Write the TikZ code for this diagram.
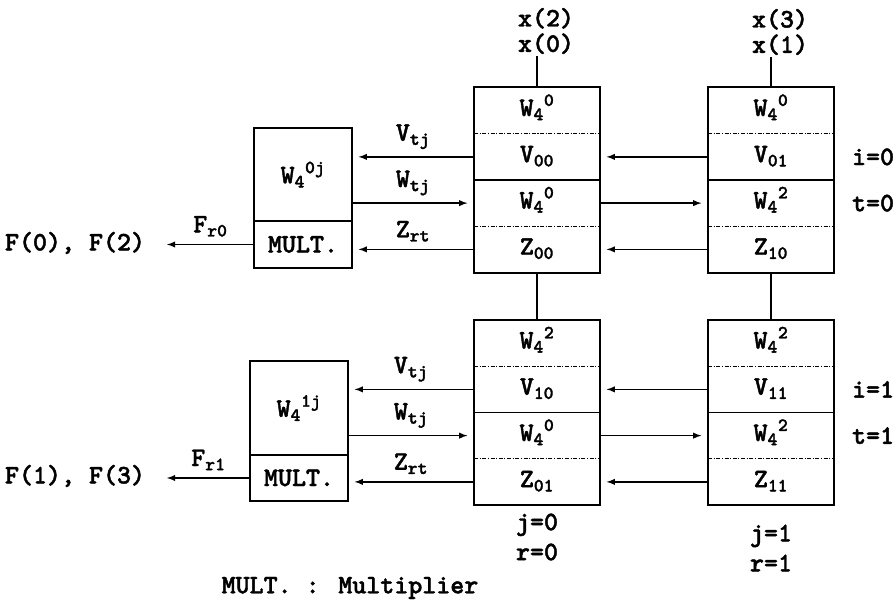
\documentclass[tikz,border=0pt]{standalone}
\usepackage{fontspec}
\setmainfont{lmmonolt10-bold}[Extension=.otf, FakeBold=1.6]
\usepackage{tikz}
\usetikzlibrary{arrows.meta,calc,positioning}

\begin{document}
\begin{tikzpicture}[x=0.75pt, y=-0.75pt,
  every node/.style={font=\fontsize{20}{22}\selectfont},
  pe/.style={draw, line width=1.5pt, minimum width=94.5pt, minimum height=138.75pt, inner sep=0pt, outer sep=0pt},
  cell/.style={minimum width=94.5pt, minimum height=34.69pt, inner sep=0pt, outer sep=0pt, text height=11pt, text depth=3pt},
  mult/.style={draw, line width=1.5pt, minimum width=73.5pt, minimum height=105pt, inner sep=0pt, outer sep=0pt},
  mcell/.style={minimum width=73.5pt, inner sep=0pt, outer sep=0pt},
  dotsep/.style={line width=0.6pt, dash pattern=on 3pt off 1.2pt on 0.8pt off 1.2pt},
  wire/.style={line width=1.2pt},
  arr/.style={-latex, line width=1.1pt, shorten >=5pt},
  twoline/.style={align=center, font=\fontsize{20}{19}\selectfont, inner sep=1pt}]

\useasboundingbox (0,0) rectangle (896,606);

% PE j=0, i=0
\node[pe] (P00) at (537,180) {};
\node[cell, anchor=north] (P00a) at (P00.north) {W\textsubscript{4}\textsuperscript{0}};
\node[cell, below=0pt of P00a] (P00b) {V\textsubscript{00}};
\node[cell, below=0pt of P00b] (P00c) {W\textsubscript{4}\textsuperscript{0}};
\node[cell, below=0pt of P00c] (P00d) {Z\textsubscript{00}};
\draw[dotsep] (P00a.south west) -- (P00a.south east);
\draw[wire] (P00b.south west) -- (P00b.south east);
\draw[dotsep] (P00c.south west) -- (P00c.south east);

% PE j=1, i=0
\node[pe] (P01) at (771,180) {};
\node[cell, anchor=north] (P01a) at (P01.north) {W\textsubscript{4}\textsuperscript{0}};
\node[cell, below=0pt of P01a] (P01b) {V\textsubscript{01}};
\node[cell, below=0pt of P01b] (P01c) {W\textsubscript{4}\textsuperscript{2}};
\node[cell, below=0pt of P01c] (P01d) {Z\textsubscript{10}};
\draw[dotsep] (P01a.south west) -- (P01a.south east);
\draw[wire] (P01b.south west) -- (P01b.south east);
\draw[dotsep] (P01c.south west) -- (P01c.south east);

% PE j=0, i=1
\node[pe] (P10) at (537,412.5) {};
\node[cell, anchor=north] (P10a) at (P10.north) {W\textsubscript{4}\textsuperscript{2}};
\node[cell, below=0pt of P10a] (P10b) {V\textsubscript{10}};
\node[cell, below=0pt of P10b] (P10c) {W\textsubscript{4}\textsuperscript{0}};
\node[cell, below=0pt of P10c] (P10d) {Z\textsubscript{01}};
\draw[dotsep] (P10a.south west) -- (P10a.south east);
\draw[wire] (P10b.south west) -- (P10b.south east);
\draw[dotsep] (P10c.south west) -- (P10c.south east);

% PE j=1, i=1
\node[pe] (P11) at (771,412.5) {};
\node[cell, anchor=north] (P11a) at (P11.north) {W\textsubscript{4}\textsuperscript{2}};
\node[cell, below=0pt of P11a] (P11b) {V\textsubscript{11}};
\node[cell, below=0pt of P11b] (P11c) {W\textsubscript{4}\textsuperscript{2}};
\node[cell, below=0pt of P11c] (P11d) {Z\textsubscript{11}};
\draw[dotsep] (P11a.south west) -- (P11a.south east);
\draw[wire] (P11b.south west) -- (P11b.south east);
\draw[dotsep] (P11c.south west) -- (P11c.south east);

% inputs and links between rows
\node[twoline] (X0) at (546,31) {x(2)\\x(0)};
\node[twoline] (X1) at (780,32) {x(3)\\x(1)};
\draw[wire] (P00.north) -- (P00.north |- X0.south);
\draw[wire] (P01.north) -- (P01.north |- X1.south);
\draw[wire] (P00.south) -- (P10.north);
\draw[wire] (P01.south) -- (P11.north);

% PE to PE
\draw[arr] (P01b.west) -- (P00b.east);
\draw[arr] (P00c.east) -- (P01c.west);
\draw[arr] (P01d.west) -- (P00d.east);
\draw[arr] (P11b.west) -- (P10b.east);
\draw[arr] (P10c.east) -- (P11c.west);
\draw[arr] (P11d.west) -- (P10d.east);

% row indices
\node[right=10pt of P01b] (I0) {i=0};
\node[right=10pt of P01c] (T0) {t=0};
\node[right=10pt of P11b] (I1) {i=1};
\node[right=10pt of P11c] (T1) {t=1};
\node[twoline, font=\fontsize{20}{22.5}\selectfont] (J0) at (537,537) {j=0\\r=0};
\node[twoline, font=\fontsize{20}{22.5}\selectfont] (J1) at (771,548) {j=1\\r=1};

% multipliers
\node[mult] (M0) at (303,198) {};
\node[mcell, minimum height=69.75pt, anchor=north] (M0a) at (M0.north) {W\textsubscript{4}\textsuperscript{0j}};
\node[mcell, minimum height=35.25pt, anchor=south] (M0b) at (M0.south) {MULT.};
\draw[wire] (M0b.north west) -- (M0b.north east);
\node[mult] (M1) at (299,431) {};
\node[mcell, minimum height=70.5pt, anchor=north] (M1a) at (M1.north) {W\textsubscript{4}\textsuperscript{1j}};
\node[mcell, minimum height=34.5pt, anchor=south] (M1b) at (M1.south) {MULT.};
\draw[wire] (M1b.north west) -- (M1b.north east);

\draw[arr] (P00b.west) -- (P00b.west -| M0.east) node[midway, above=2pt] {V\textsubscript{tj}};
\draw[arr] (P00c.west -| M0.east) -- (P00c.west) node[midway, above=2pt] {W\textsubscript{tj}};
\draw[arr] (P00d.west) -- (P00d.west -| M0.east) node[midway, above=2pt] {Z\textsubscript{rt}};
\draw[arr] (P10b.west) -- (P10b.west -| M1.east) node[midway, above=2pt] {V\textsubscript{tj}};
\draw[arr] (P10c.west -| M1.east) -- (P10c.west) node[midway, above=2pt] {W\textsubscript{tj}};
\draw[arr] (P10d.west) -- (P10d.west -| M1.east) node[midway, above=2pt] {Z\textsubscript{rt}};

% outputs
\coordinate (F0tip) at (167,244.5);
\coordinate (F1tip) at (167,478);
\node (F0) at (75,243) {F(0), F(2)};
\node (F1) at (75,476) {F(1), F(3)};
\draw[arr, shorten >=0pt] (M0b.west) -- (F0tip) node[midway, above=2pt] {F\textsubscript{r0}};
\draw[arr, shorten >=0pt] (M1b.west) -- (F1tip) node[midway, above=2pt] {F\textsubscript{r1}};

\node (LEG) at (350,588) {MULT. : Multiplier};

\end{tikzpicture}
\end{document}
